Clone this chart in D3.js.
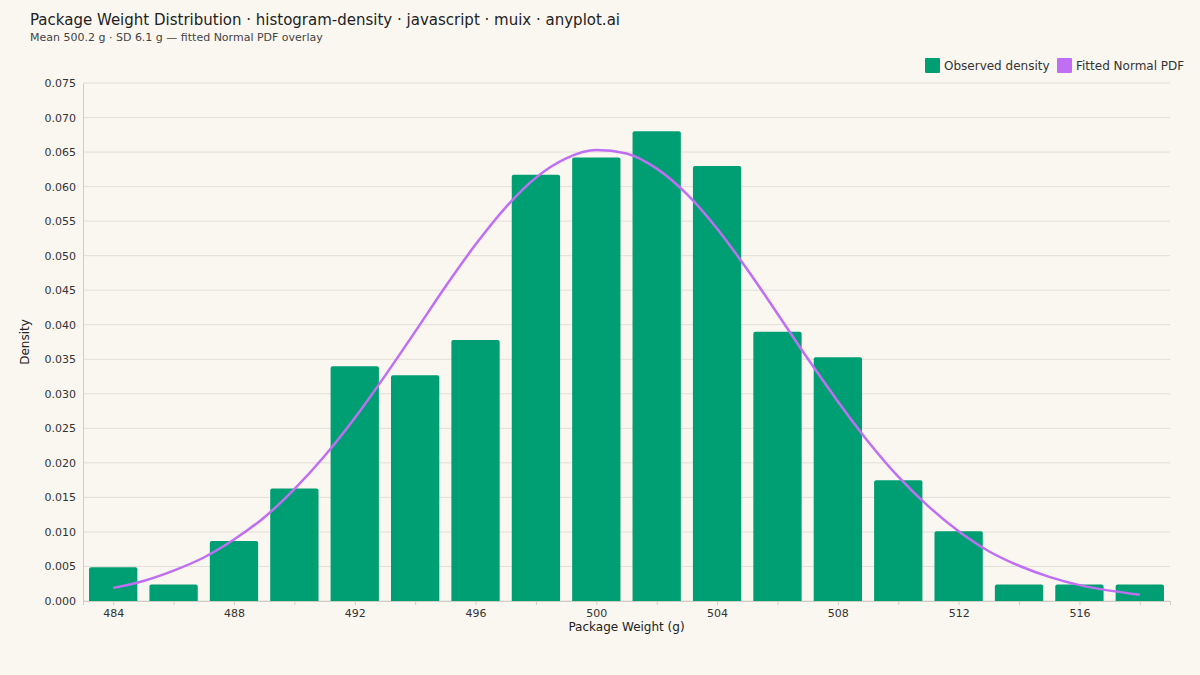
<!DOCTYPE html>
<html>
<head>
<meta charset="utf-8">
<script src="https://cdn.jsdelivr.net/npm/d3@7"></script>
<style>
  body { margin: 0; background: #faf7f0; font-family: "DejaVu Sans", sans-serif; }
</style>
</head>
<body>
<svg id="chart" width="1200" height="675"></svg>
<script>
// histogram bins (centre, density)
const binCenters = [484, 486, 488, 490, 492, 494, 496, 498, 500, 502, 504, 506, 508, 510, 512, 514, 516, 518];
const densities = [0.0049, 0.0024, 0.0087, 0.0163, 0.0340, 0.0327, 0.0378, 0.0617, 0.0642, 0.0680, 0.0630, 0.0390, 0.0353, 0.0175, 0.0101, 0.0024, 0.0024, 0.0024];
const binWidth = 2;

// fitted normal curve, read at each gram
const curveX = d3.range(484, 519);
const curveY = [0.0019, 0.0029, 0.0044, 0.0063, 0.0089, 0.0121, 0.0162, 0.0210, 0.0265, 0.0326, 0.0390, 0.0455, 0.0516, 0.0570, 0.0613, 0.0641, 0.0653, 0.0648, 0.0626, 0.0589, 0.0539, 0.0480, 0.0416, 0.0351, 0.0289, 0.0231, 0.0180, 0.0137, 0.0101, 0.0072, 0.0051, 0.0035, 0.0023, 0.0015, 0.0009];

const xTicks = [484, 488, 492, 496, 500, 504, 508, 512, 516];
const yTicks = d3.range(0, 0.0751, 0.005);

const svg = d3.select('#chart');
const margin = {left: 83, right: 30, top: 83, bottom: 74};
const W = 1200, H = 675;

const x = d3.scaleLinear().domain([483, 519]).range([margin.left, W - margin.right]);
const y = d3.scaleLinear().domain([0, 0.075]).range([H - margin.bottom, margin.top]);

svg.append('rect').attr('width', W).attr('height', H).attr('fill', '#faf7f0');

// grid
svg.append('g').selectAll('line').data(yTicks).enter().append('line')
	.attr('x1', margin.left).attr('x2', W - margin.right)
	.attr('y1', d => y(d)).attr('y2', d => y(d))
	.attr('stroke', '#e2dfd8').attr('stroke-width', 1);

// axes
const yAxis = svg.append('g').attr('transform', 'translate(' + margin.left + ',0)')
	.call(d3.axisLeft(y).tickValues(yTicks).tickFormat(d3.format('.3f')).tickSize(0).tickPadding(7));
yAxis.select('.domain').attr('stroke', '#cfccc4');
yAxis.selectAll('text').style('font-size', '11px').attr('fill', '#333').style('font-family', 'DejaVu Sans');

const xAxis = svg.append('g').attr('transform', 'translate(0,' + (H - margin.bottom) + ')')
	.call(d3.axisBottom(x).tickValues(d3.range(484, 519, 2)).tickFormat(d => xTicks.includes(d) ? d : '').tickSize(4).tickPadding(4));
xAxis.select('.domain').attr('stroke', '#cfccc4');
xAxis.selectAll('line').attr('stroke', '#cfccc4');
xAxis.selectAll('text').style('font-size', '11px').attr('fill', '#333').style('font-family', 'DejaVu Sans');

// bars
const barGap = 0.4;
svg.append('g').selectAll('path').data(binCenters).enter().append('path')
	.attr('fill', '#009e73')
	.attr('d', (d, i) => {
		const x0 = x(d - binWidth / 2 + barGap / 2), x1 = x(d + binWidth / 2 - barGap / 2);
		const y0 = y(densities[i]), yb = y(0), r = 2;
		return `M${x0},${yb}V${y0 + r}Q${x0},${y0} ${x0 + r},${y0}H${x1 - r}Q${x1},${y0} ${x1},${y0 + r}V${yb}Z`;
	});

// curve
const line = d3.line().x((d, i) => x(d)).y((d, i) => y(curveY[i])).curve(d3.curveMonotoneX);
svg.append('path').datum(curveX).attr('d', line)
	.attr('fill', 'none').attr('stroke', '#c06ff5').attr('stroke-width', 2.5);

// titles
svg.append('text').attr('x', 30).attr('y', 25).text('Package Weight Distribution · histogram-density · javascript · muix · anyplot.ai')
	.style('font-size', '15px').attr('fill', '#222');
svg.append('text').attr('x', 30).attr('y', 41).text('Mean 500.2 g · SD 6.1 g — fitted Normal PDF overlay')
	.style('font-size', '11px').attr('fill', '#444');
svg.append('text').attr('x', (margin.left + W - margin.right) / 2).attr('y', 631).attr('text-anchor', 'middle')
	.text('Package Weight (g)').style('font-size', '12px').attr('fill', '#222');
svg.append('text').attr('transform', 'translate(29,' + ((margin.top + H - margin.bottom) / 2) + ') rotate(-90)')
	.attr('text-anchor', 'middle').text('Density').style('font-size', '12px').attr('fill', '#222');

// legend
const legend = [['Observed density', '#009e73', 925], ['Fitted Normal PDF', '#c06ff5', 1057]];
const lg = svg.append('g').selectAll('g').data(legend).enter().append('g')
	.attr('transform', d => 'translate(' + d[2] + ',58)');
lg.append('rect').attr('width', 15).attr('height', 15).attr('rx', 1).attr('fill', d => d[1]);
lg.append('text').attr('x', 19).attr('y', 12).text(d => d[0]).style('font-size', '12px').attr('fill', '#333');
</script>
</body>
</html>
